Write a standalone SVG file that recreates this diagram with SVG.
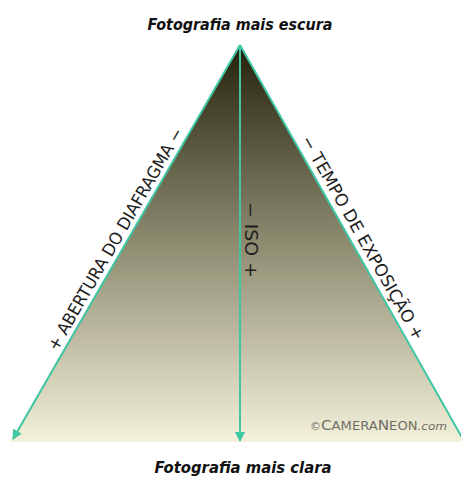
<svg xmlns="http://www.w3.org/2000/svg" width="461" height="477" viewBox="0 0 461 477">
<style>
.title{font-family:"Comic Sans MS","DejaVu Sans",sans-serif;font-weight:bold;font-style:italic;font-size:16px;fill:#111;text-anchor:middle}
.lbl{font-family:"Liberation Sans Narrow","DejaVu Sans Condensed",sans-serif;font-size:17px;fill:#1e1e1e;text-anchor:middle}
.conn{stroke:#3fc6a2;stroke-width:2;fill:none}
</style>
<defs>
<linearGradient id="g" x1="0" y1="45" x2="0" y2="442" gradientUnits="userSpaceOnUse">
<stop offset="0" stop-color="#24220c"/>
<stop offset="0.5" stop-color="#8d8b70"/>
<stop offset="1" stop-color="#f4f1da"/>
</linearGradient>
<marker id="ah" viewBox="0 0 10 10" refX="9" refY="5" markerWidth="5" markerHeight="5" orient="auto" markerUnits="strokeWidth">
<path d="M0,0 L10,5 L0,10 z" fill="#3fc6a2"/>
</marker>
</defs>
<g id="triangle">
<polygon points="240,45 10,442 464,442" fill="url(#g)"/>
</g>
<g id="connectors">
<line class="conn" x1="240" y1="45" x2="13" y2="439" marker-end="url(#ah)"/>
<line class="conn" x1="240" y1="45" x2="240" y2="441" marker-end="url(#ah)"/>
<line class="conn" x1="240" y1="45" x2="464" y2="441"/>
</g>
<g id="top-label"><text class="title" x="240" y="30" textLength="185" lengthAdjust="spacingAndGlyphs">Fotografia mais escura</text></g>
<g id="bottom-label"><text class="title" x="243" y="473" textLength="177" lengthAdjust="spacingAndGlyphs">Fotografia mais clara</text></g>
<g id="aperture"><text class="lbl" transform="translate(120.4,242.1) rotate(-60)" textLength="254" lengthAdjust="spacingAndGlyphs">+  ABERTURA DO DIAFRAGMA  −</text></g>
<g id="shutter"><text class="lbl" transform="translate(357.8,240.7) rotate(60.5)" textLength="232" lengthAdjust="spacingAndGlyphs">−  TEMPO DE EXPOSIÇÃO  +</text></g>
<g id="iso"><text class="lbl" transform="translate(245,240) rotate(90)" font-size="16" textLength="76" lengthAdjust="spacingAndGlyphs">−  ISO  +</text></g>
<g id="watermark"><text x="310" y="430" font-family="Liberation Sans Narrow, DejaVu Sans Condensed, sans-serif" fill="#6e6e66" font-size="10" textLength="137" lengthAdjust="spacingAndGlyphs">©<tspan font-size="14">C</tspan><tspan font-size="12">AMERA</tspan><tspan font-size="14">N</tspan><tspan font-size="12">EON</tspan><tspan font-style="italic" font-size="11">.com</tspan></text></g>
</svg>
